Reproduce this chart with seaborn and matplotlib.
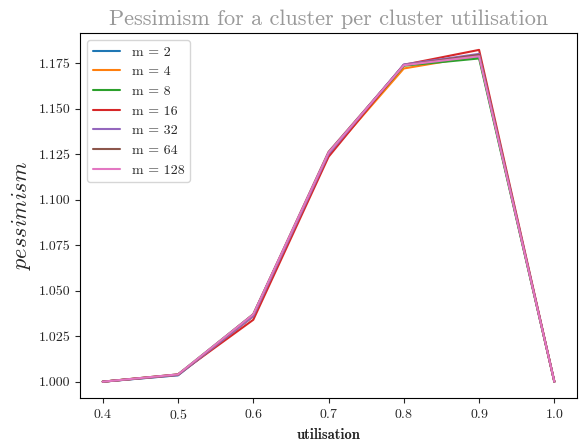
import matplotlib
matplotlib.use("Agg")
import matplotlib.pyplot as plt
import seaborn as sns
import pandas as pd

utilisation = [0.4, 0.5, 0.6, 0.7, 0.8, 0.9, 1.0]
m_values = [2, 4, 8, 16, 32, 64, 128]
pessimism = {
    2:   [1.000, 1.0035, 1.036, 1.1255, 1.1740, 1.1785, 1.000],
    4:   [1.000, 1.0038, 1.036, 1.1245, 1.1720, 1.1790, 1.000],
    8:   [1.000, 1.0040, 1.037, 1.1250, 1.1735, 1.1775, 1.000],
    16:  [1.000, 1.0040, 1.034, 1.1235, 1.1740, 1.1822, 1.000],
    32:  [1.000, 1.0036, 1.036, 1.1250, 1.1742, 1.1800, 1.000],
    64:  [1.000, 1.0038, 1.037, 1.1262, 1.1738, 1.1795, 1.000],
    128: [1.000, 1.0040, 1.037, 1.1258, 1.1738, 1.1787, 1.000],
}

sns.set_style("ticks")
plt.rcParams["font.family"] = "serif"
plt.rcParams["font.serif"] = ["cmr10"]
plt.rcParams["mathtext.fontset"] = "cm"
plt.rcParams["axes.formatter.use_mathtext"] = True
plt.rcParams["axes.unicode_minus"] = False

rows = []
for m in m_values:
    for u, p in zip(utilisation, pessimism[m]):
        rows.append({"utilisation": u, "pessimism": p, "m": f"m = {m}"})
df = pd.DataFrame(rows)

fig, ax = plt.subplots(figsize=(5.81, 4.44), dpi=100)
sns.lineplot(data=df, x="utilisation", y="pessimism", hue="m",
             palette="tab10", linewidth=1.5, ax=ax)

ax.legend(title=None, loc="upper left", fontsize=10)
ax.set_title("Pessimism for a cluster per cluster utilisation",
             color="#999999", fontsize=16)
ax.set_xlabel("utilisation", fontweight="bold", family="cmb10", fontsize=10.5)
ax.set_ylabel(r"$pessimism$", fontsize=16)
ax.set_yticks([1.000, 1.025, 1.050, 1.075, 1.100, 1.125, 1.150, 1.175])
ax.set_yticklabels([f"{v:.3f}" for v in ax.get_yticks()])
for s in ax.spines.values():
    s.set_visible(True)
    s.set_color("black")

fig.subplots_adjust(left=0.138, right=0.993, top=0.925, bottom=0.103)
fig.savefig("out.png", dpi=100)
